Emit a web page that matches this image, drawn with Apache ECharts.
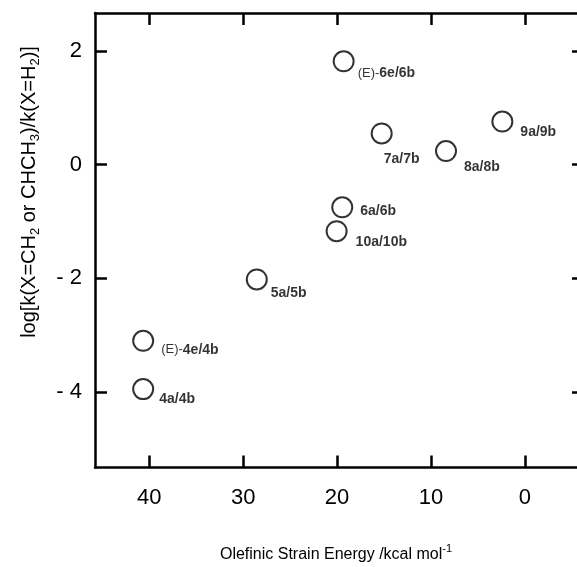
<!DOCTYPE html>
<html>
<head>
<meta charset="utf-8">
<script src="https://cdn.jsdelivr.net/npm/echarts@6/dist/echarts.min.js"></script>
<style>
html,body{margin:0;padding:0;background:#fff;}
#chart{width:577px;height:567px;}
</style>
</head>
<body>
<div id="chart"></div>
<script>
// compounds, olefinic strain energy (kcal/mol) and log rate ratio
var names = ['(E)-6e/6b', '9a/9b', '7a/7b', '8a/8b', '6a/6b', '10a/10b', '5a/5b', '(E)-4e/4b', '4a/4b'];
var strain = [19.3, 2.4, 15.25, 8.4, 19.45, 20.05, 28.55, 40.65, 40.65];
var logRatio = [1.82, 0.76, 0.55, 0.24, -0.75, -1.17, -2.02, -3.10, -3.95];
var xTicks = [40, 30, 20, 10, 0];
var yTicks = [2, 0, -2, -4];
// where each point label sits relative to its circle
var labelOffsets = [[14, 12], [18, 11], [2, 26], [18, 16], [18, 4], [19, 11], [14, 14], [18, 9], [16, 10]];

var font = 'Liberation Sans, Arial, sans-serif';

var pts = [];
for (var i = 0; i < names.length; i++) {
    pts.push({
        value: [strain[i], logRatio[i]],
        name: names[i],
        label: {offset: labelOffsets[i]}
    });
}

var chart = echarts.init(document.getElementById('chart'));
var axisLine = {onZero: false, lineStyle: {color: '#000', width: 2.5}};
var tickStyle = {inside: true, length: 12, lineStyle: {color: '#000', width: 2.5}};

option = {
    backgroundColor: '#fff',
    animation: false,
    grid: {left: 95, top: 13, right: 0, bottom: 99.5, outerBoundsMode: 'none', containLabel: false},
    xAxis: [
        {
            type: 'value',
            position: 'bottom',
            inverse: true,
            min: -5.55,
            max: 45.78,
            axisLine: axisLine,
            axisTick: Object.assign({customValues: xTicks}, tickStyle),
            axisLabel: {
                customValues: xTicks,
                color: '#000',
                fontFamily: font,
                fontSize: 22,
                margin: 19
            },
            splitLine: {show: false},
            name: '{a|Olefinic Strain Energy /kcal mol}{s|-1}',
            nameLocation: 'middle',
            nameGap: 76,
            nameTextStyle: {
                rich: {
                    a: {fontFamily: font, fontSize: 16, color: '#000'},
                    s: {fontFamily: font, fontSize: 11, color: '#000', padding: [0, 0, 12, 0]}
                }
            }
        },
        {
            type: 'value',
            position: 'top',
            inverse: true,
            min: -5.55,
            max: 45.78,
            axisLine: axisLine,
            axisTick: Object.assign({customValues: xTicks}, tickStyle),
            axisLabel: {show: false},
            splitLine: {show: false}
        }
    ],
    yAxis: [
        {
            type: 'value',
            position: 'left',
            min: -5.33,
            max: 2.67,
            axisLine: axisLine,
            axisTick: Object.assign({customValues: yTicks}, tickStyle),
            axisLabel: {
                customValues: yTicks,
                color: '#000',
                fontFamily: font,
                fontSize: 22,
                margin: 13,
                formatter: function (v) {
                    return v < 0 ? '- ' + Math.abs(v) : String(v);
                }
            },
            splitLine: {show: false}
        },
        {
            type: 'value',
            position: 'right',
            offset: 7,
            min: -5.33,
            max: 2.67,
            axisLine: {show: false, onZero: false},
            axisTick: Object.assign({customValues: yTicks}, tickStyle),
            axisLabel: {show: false},
            splitLine: {show: false}
        }
    ],
    graphic: [
        {
            type: 'text',
            x: 29,
            y: 192,
            rotation: Math.PI / 2,
            style: {
                text: '{a|log[k(X=CH}{s|2}{a| or CHCH}{s|3}{a|)/k(X=H}{s|2}{a|)]}',
                align: 'center',
                verticalAlign: 'middle',
                rich: {
                    a: {fontFamily: font, fontSize: 20, fill: '#000'},
                    s: {fontFamily: font, fontSize: 13, fill: '#000', padding: [12, 0, 0, 0]}
                }
            }
        }
    ],
    series: [
        {
            type: 'scatter',
            symbol: 'circle',
            symbolSize: 20,
            data: pts,
            itemStyle: {color: 'rgba(0,0,0,0)', borderColor: '#000', borderWidth: 2},
            label: {
                show: true,
                position: 'inside',
                align: 'left',
                verticalAlign: 'middle',
                textBorderWidth: 0,
                formatter: function (p) {
                    var n = p.name;
                    if (n.indexOf('(E)-') === 0) {
                        return '{n|(E)-}{b|' + n.slice(4) + '}';
                    }
                    return '{b|' + n + '}';
                },
                rich: {
                    n: {fontFamily: font, fontSize: 13, color: '#000', textBorderWidth: 0},
                    b: {fontFamily: font, fontSize: 14, fontWeight: 'bold', color: '#000', textBorderWidth: 0}
                }
            }
        }
    ]
};
chart.setOption(option);
</script>
</body>
</html>
